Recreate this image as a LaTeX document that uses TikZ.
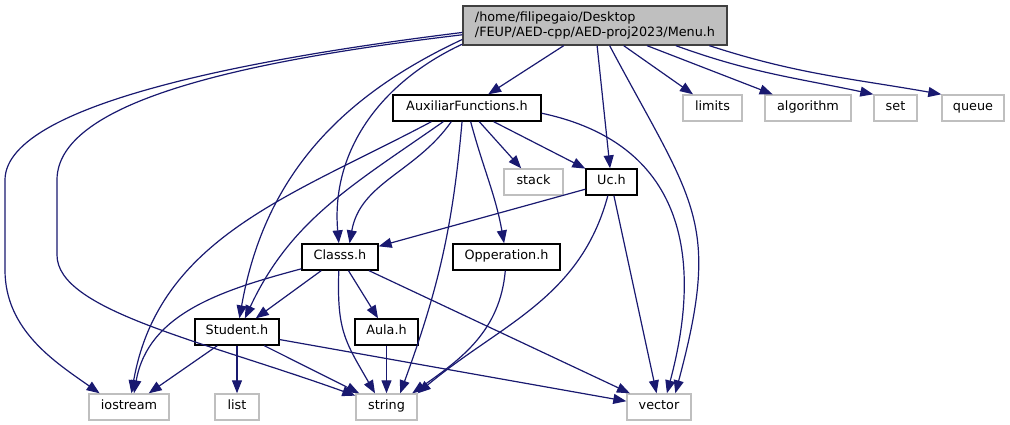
\documentclass[tikz,border=0pt]{standalone}
\usepackage{fontspec}
\setmainfont{DejaVu Sans}
\usepackage{xcolor}
\usepackage{tikz}
\usetikzlibrary{arrows.meta}

\definecolor{dxblue}{HTML}{191970}
\definecolor{dxgray}{HTML}{BFBFBF}
\definecolor{dxdark}{HTML}{404040}

\tikzset{
  hdr/.style={draw=black, line width=1.3pt, fill=white, inner sep=0pt,
    minimum height=26pt, text height=9pt, text depth=3.6pt,
    font=\fontsize{12.8}{15.5}\selectfont},
  sys/.style={hdr, draw=dxgray, line width=1.4pt},
  root/.style={draw=dxdark, line width=1.3pt, fill=dxgray, inner sep=0pt,
    minimum height=39pt, align=left, font=\fontsize{12.8}{15.5}\selectfont},
  dep/.style={draw=dxblue, line width=1.2pt}
}

\begin{document}
\begin{tikzpicture}[->,>={Triangle[length=13pt,width=10pt]}, x=1pt, y=-1pt,
                    every edge/.style={dep}]
  \useasboundingbox (0,0) rectangle (1010,425);

  % Fichiers
  \node[root, minimum width=264pt] (menu) at (595,25.5)
    {/home/filipegaio/Desktop\\/FEUP/AED-cpp/AED-proj2023/Menu.h};
  \node[hdr, minimum width=148pt] (aux) at (467,108) {AuxiliarFunctions.h};
  \node[sys, minimum width=59pt] (limits) at (712.5,108) {limits};
  \node[sys, minimum width=86pt] (algorithm) at (808,108) {algorithm};
  \node[sys, minimum width=43pt] (set) at (895.5,108) {set};
  \node[sys, minimum width=62pt] (queue) at (973,108) {queue};
  \node[sys, minimum width=59pt] (stack) at (533.5,182) {stack};
  \node[hdr, minimum width=51pt] (uc) at (611.5,182) {Uc.h};
  \node[hdr, minimum width=76pt] (classs) at (340,257) {Classs.h};
  \node[hdr, minimum width=107pt] (opperation) at (506.5,257) {Opperation.h};
  \node[hdr, minimum width=84pt] (student) at (237,332) {Student.h};
  \node[hdr, minimum width=63pt] (aula) at (386.5,332) {Aula.h};
  \node[sys, minimum width=80pt] (iostream) at (129,407) {iostream};
  \node[sys, minimum width=44pt] (list) at (237,407) {list};
  \node[sys, minimum width=61pt] (string) at (386.5,407) {string};
  \node[sys, minimum width=64pt] (vector) at (659,407) {vector};

  % Menu.h
  \path (menu) edge (aux);
  \path (menu) edge (limits);
  \path (menu) edge (algorithm);
  \path (menu.-14) edge[out=-20,in=168] (set.north west);
  \path (menu.-10) edge[out=-18,in=170] (queue.north west);
  \path (menu) edge (uc);
  \path (menu.-54) edge[out=-62,in=75,looseness=1.3] (vector.40);
  \path (menu.-172) edge[out=-155,in=95] (classs.95);
  \path (menu.-174) edge[out=-155,in=80] (student.80);
  \draw[dep] (menu.-177) .. controls (280,55) and (5,100) .. (5,180) -- (5,270)
    .. controls (5,330) and (55,362) .. (iostream.155);
  \draw[dep] (menu.-176) .. controls (250,60) and (57,100) .. (57,180) -- (57,255)
    .. controls (57,310) and (200,340) .. (string.160);

  % AuxiliarFunctions.h
  \path (aux) edge (stack);
  \path (aux) edge (uc);
  \path (aux) edge[out=-75,in=100] (opperation);
  \path (aux.-139) edge[out=-125,in=80] (classs.55);
  \path (aux.-150) edge[out=-145,in=65] (student.60);
  \path (aux.-159) edge[out=-152,in=80] (iostream.80);
  \path (aux.-110) edge[out=-95,in=70] (string.45);
  \path (aux.-4) edge[out=-12,in=75,looseness=1.2] (vector.60);

  % Uc.h
  \path (uc) edge (classs);
  \path (uc) edge[out=-105,in=40] (string.north east);
  \path (uc.-80) edge (vector.100);

  % Classs.h
  \path (classs) edge (student);
  \path (classs) edge (aula);
  \path (classs) edge (vector);
  \path (classs.-95) edge[out=-92,in=120,looseness=1.2] (string.130);
  \path (classs.-163) edge[out=-165,in=80] (iostream.70);

  % le reste
  \path (opperation) edge[out=-95,in=35] (string.28);
  \path (aula) edge (string);
  \path (student) edge (iostream);
  \path (student) edge (list);
  \path (student) edge (string);
  \path (student) edge (vector);
\end{tikzpicture}
\end{document}
